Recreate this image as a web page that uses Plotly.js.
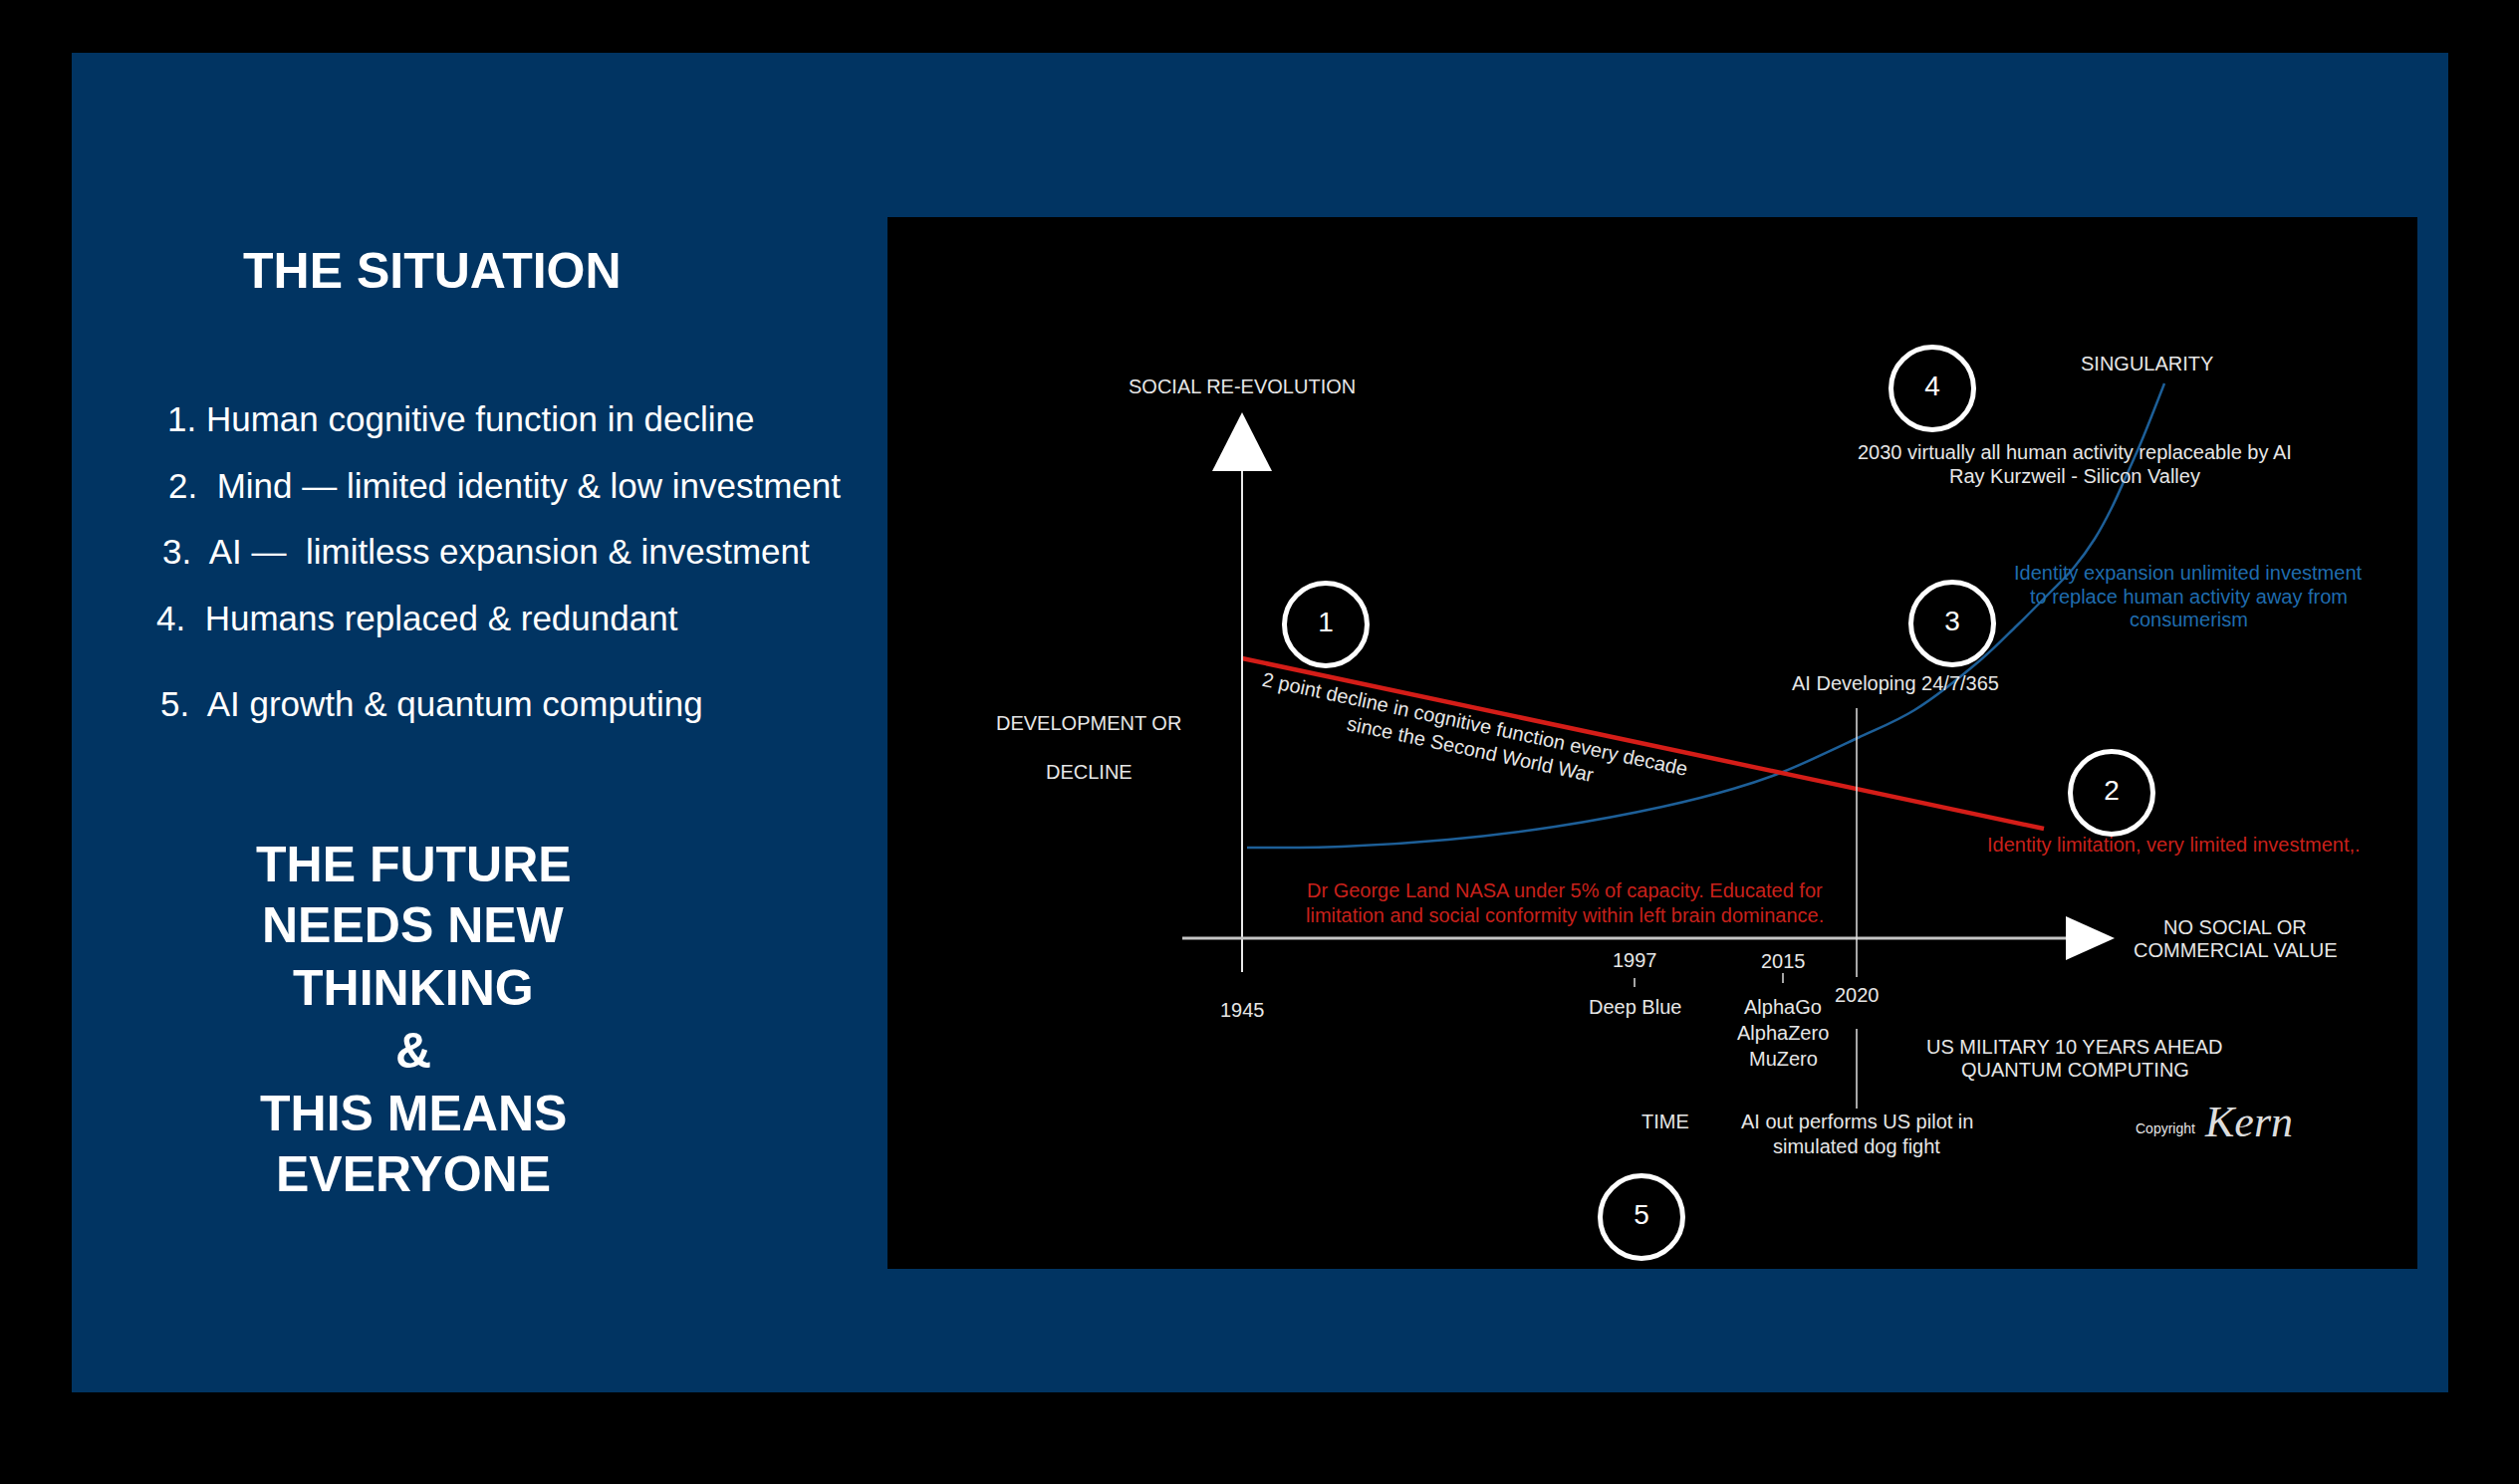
<!DOCTYPE html>
<html><head><meta charset="utf-8">
<script src="https://cdn.plot.ly/plotly-3.0.1.min.js"></script>
<style>html,body{margin:0;padding:0;background:#000;}#chart{width:2529px;height:1490px;}</style>
</head><body><div id="chart"></div>
<script>
// ---- DATA (chart units: origin where the two axes cross; x = time, y = development) ----
const declineX = [0, 805];
const declineY = [281, 110];
const aiGrowthX = [5, 100, 207, 314, 422, 493, 543, 618, 675, 741, 778, 811, 835, 856, 873, 888, 903, 926];
const aiGrowthY = [91, 92, 99, 112, 132, 150, 167, 201, 229, 279, 314, 347, 372, 401, 432, 465, 499, 557];
const stageLabels = ['1', '2', '3', '4', '5'];
const stageX = [84, 873, 713, 693, 401];
const stageY = [315, 146, 316, 552, -280];
const milestoneYears = ['1945', '1997', '2015', '2020'];
const milestoneX = [0, 394, 543, 617];
const situationItems = [
  '1. Human cognitive function in decline',
  '2.\u00a0 Mind \u2014 limited identity & low investment',
  '3.\u00a0 AI \u2014\u00a0 limitless expansion & investment',
  '4.\u00a0 Humans replaced & redundant',
  '5.\u00a0 AI growth & quantum computing'
];
const futureLines = ['THE FUTURE', 'NEEDS NEW', 'THINKING', '&', 'THIS MEANS', 'EVERYONE'];

// ---- helpers: page pixel -> chart units ----
const OX = 1247, OY = 942;
const X = px => px - OX;
const Y = py => OY - py;

const FONT = 'Liberation Sans, Arial, sans-serif';
const annotations = [];
function ann(text, px, py, size, color, extra) {
  annotations.push(Object.assign({
    text: text, x: X(px), y: Y(py), xref: 'x', yref: 'y',
    showarrow: false, xanchor: 'center', yanchor: 'middle',
    font: {family: FONT, size: size, color: color}
  }, extra || {}));
}

// Left panel
ann('<b>THE SITUATION</b>', 434, 272, 50, '#ffffff');
const itemLeft = [166, 167, 161, 155, 159];
const itemY = [420, 487, 553, 620, 706];
situationItems.forEach((t, i) => ann(t, itemLeft[i], itemY[i], 35, '#ffffff', {xanchor: 'left'}));
const futureY = [868, 929, 992, 1055, 1118, 1179];
futureLines.forEach((t, i) => ann('<b>' + t + '</b>', 415, futureY[i], 50, '#ffffff'));

// Chart texts
const W = '#e6e6e6', RED = '#c9201b', BLUE = '#1f6cae';
ann('SOCIAL RE-EVOLUTION', 1247, 388, 20, W);
ann('DEVELOPMENT OR', 1093, 726, 20, W);
ann('DECLINE', 1093, 775, 20, W);
ann('SINGULARITY', 2155, 365, 20, W);
ann('2030 virtually all human activity replaceable by AI', 2083, 454, 20, W);
ann('Ray Kurzweil - Silicon Valley', 2083, 478, 20, W);
ann('Identity expansion unlimited investment', 2197, 575, 20, BLUE);
ann('to replace human activity away from', 2197, 599, 20, BLUE);
ann('consumerism', 2197, 622, 20, BLUE);
ann('AI Developing 24/7/365', 1903, 686, 20, W);
ann('Identity limitation, very limited investment,.', 2182, 848, 20, RED);
ann('2 point decline in cognitive function every decade', 1481, 727, 20, W, {textangle: 12});
ann('since the Second World War', 1476, 752, 20, W, {textangle: 12});
ann('Dr George Land NASA under 5% of capacity. Educated for', 1571, 894, 20, RED);
ann('limitation and social conformity within left brain dominance.', 1571, 919, 20, RED);
ann('NO SOCIAL OR', 2244, 931, 20, W);
ann('COMMERCIAL VALUE', 2244, 954, 20, W);
const yearLabelY = [1014, 964, 965, 999];
milestoneYears.forEach((t, i) => annotations.push({
  text: t, x: milestoneX[i], y: Y(yearLabelY[i]), xref: 'x', yref: 'y', showarrow: false,
  xanchor: 'center', yanchor: 'middle', font: {family: FONT, size: 20, color: W}
}));
ann('Deep Blue', 1641, 1011, 20, W);
ann('AlphaGo', 1790, 1011, 20, W);
ann('AlphaZero', 1790, 1037, 20, W);
ann('MuZero', 1790, 1063, 20, W);
ann('US MILITARY 10 YEARS AHEAD', 2083, 1051, 20, W);
ann('QUANTUM COMPUTING', 2083, 1074, 20, W);
ann('TIME', 1672, 1126, 20, W);
ann('AI out performs US pilot in', 1864, 1126, 20, W);
ann('simulated dog fight', 1864, 1151, 20, W);
ann('Copyright', 2174, 1133, 14, W);
ann('<i>Kern</i>', 2257, 1126, 44, '#dddddd', {font: {family: 'Liberation Serif, serif', size: 44, color: '#dddddd'}});

// Shapes (backgrounds, axes, arrows, guide lines)
const shapes = [
  {type: 'rect', xref: 'x', yref: 'y', x0: X(72), x1: X(2458), y0: Y(53), y1: Y(1398), fillcolor: '#013462', line: {width: 0}, layer: 'below'},
  {type: 'rect', xref: 'x', yref: 'y', x0: X(891), x1: X(2427), y0: Y(218), y1: Y(1274), fillcolor: '#000000', line: {width: 0}, layer: 'below'},
  // vertical axis
  {type: 'line', xref: 'x', yref: 'y', x0: 0, x1: 0, y0: Y(976), y1: Y(472), line: {color: '#e8e8e8', width: 2}},
  {type: 'path', xref: 'x', yref: 'y', path: `M ${X(1217)} ${Y(473)} L ${X(1247)} ${Y(414)} L ${X(1277)} ${Y(473)} Z`, fillcolor: '#ffffff', line: {width: 0}},
  // horizontal axis
  {type: 'line', xref: 'x', yref: 'y', x0: X(1187), x1: X(2076), y0: 0, y1: 0, line: {color: '#c4c4c4', width: 3}},
  {type: 'path', xref: 'x', yref: 'y', path: `M ${X(2074)} ${Y(920)} L ${X(2123)} ${Y(942)} L ${X(2074)} ${Y(964)} Z`, fillcolor: '#ffffff', line: {width: 0}},
  // milestone ticks
  {type: 'line', xref: 'x', yref: 'y', x0: milestoneX[1], x1: milestoneX[1], y0: Y(982), y1: Y(991), line: {color: '#dddddd', width: 1.5}},
  {type: 'line', xref: 'x', yref: 'y', x0: milestoneX[2], x1: milestoneX[2], y0: Y(977), y1: Y(987), line: {color: '#dddddd', width: 1.5}},
  // 2020 line
  {type: 'line', xref: 'x', yref: 'y', x0: milestoneX[3], x1: milestoneX[3], y0: Y(711), y1: Y(981), line: {color: '#e0e0e0', width: 1.5}},
  {type: 'line', xref: 'x', yref: 'y', x0: milestoneX[3], x1: milestoneX[3], y0: Y(1033), y1: Y(1113), line: {color: '#e0e0e0', width: 1.5}}
];

const traces = [
  {type: 'scatter', mode: 'lines', x: aiGrowthX, y: aiGrowthY, line: {color: '#1d5f98', width: 2.5, shape: 'spline', smoothing: 1}, hoverinfo: 'skip'},
  {type: 'scatter', mode: 'lines', x: declineX, y: declineY, line: {color: '#d41d18', width: 4.5}, hoverinfo: 'skip'},
  {type: 'scatter', mode: 'markers+text', x: stageX, y: stageY, text: stageLabels, textposition: 'middle center',
   textfont: {family: FONT, size: 28, color: '#ffffff'}, cliponaxis: false,
   marker: {symbol: 'circle-open', size: 83, color: '#ffffff', line: {color: '#ffffff', width: 5}}, hoverinfo: 'skip'}
];

const layout = {
  width: 2529, height: 1490, margin: {l: 0, r: 0, t: 0, b: 0, pad: 0},
  paper_bgcolor: '#000000', plot_bgcolor: 'rgba(0,0,0,0)', showlegend: false,
  xaxis: {range: [X(0), X(2529)], visible: false, showgrid: false, zeroline: false, fixedrange: true},
  yaxis: {range: [Y(1490), Y(0)], visible: false, showgrid: false, zeroline: false, fixedrange: true},
  shapes: shapes, annotations: annotations
};

Plotly.newPlot('chart', traces, layout, {staticPlot: true, displayModeBar: false});
</script>
</body></html>
